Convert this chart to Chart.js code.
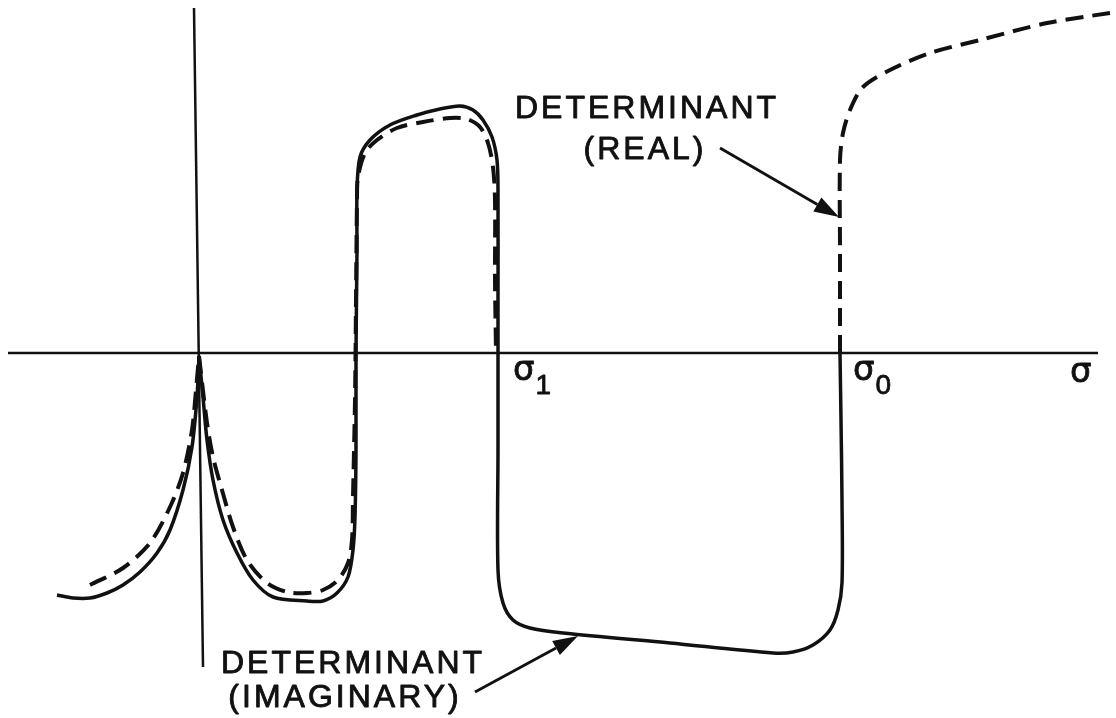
<!DOCTYPE html>
<html>
<head>
<meta charset="utf-8">
<script src="https://cdn.jsdelivr.net/npm/chart.js@4.4.1/dist/chart.umd.min.js"></script>
<style>
  html, body { margin: 0; padding: 0; background: #fff; }
  #plot { display: block; }
</style>
</head>
<body>
<canvas id="plot" width="1116" height="718"></canvas>
<script>
// sigma along the horizontal axis, determinant value up the vertical one
const imagLeftX = [-1.42, -1.26, -1.09, -0.92, -0.76, -0.59, -0.42, -0.29, -0.16, -0.07, -0.02, 0.00];
const imagLeftY = [-2.42, -2.45, -2.45, -2.40, -2.32, -2.19, -2.00, -1.77, -1.37, -0.94, -0.44, -0.03];

const imagMainX = [0.00, 0.04, 0.08, 0.14, 0.24, 0.38, 0.54, 0.74, 1.08, 1.24, 1.38, 1.49, 1.54, 1.56, 1.57, 1.57,
    1.58, 1.58, 1.61, 1.71, 1.91, 2.18, 2.41, 2.61, 2.74, 2.84, 2.93, 2.98, 2.99, 2.99, 2.99, 2.99,
    3.04, 3.14, 3.31, 3.64, 4.71, 5.74, 5.94, 6.14, 6.31, 6.39, 6.43, 6.43, 6.42, 6.41];
const imagMainY = [-0.03, -0.44, -0.87, -1.27, -1.67, -2.00, -2.27, -2.44, -2.48, -2.48, -2.40, -2.24, -1.97, -1.64, -0.97, 0.01,
    1.03, 1.63, 1.96, 2.13, 2.28, 2.38, 2.44, 2.47, 2.43, 2.33, 2.16, 1.93, 1.63, 0.53, -0.97, -2.17,
    -2.50, -2.67, -2.75, -2.80, -2.90, -3.00, -2.99, -2.92, -2.77, -2.57, -2.30, -1.47, -0.67, 0.00];

const realLeftX = [-1.09, -0.76, -0.49, -0.29, -0.16, -0.07, -0.03, 0.00];
const realLeftY = [-2.32, -2.15, -1.90, -1.54, -1.20, -0.77, -0.37, -0.03];

const realMainX = [0.00, 0.08, 0.14, 0.23, 0.34, 0.48, 0.68, 0.88, 1.08, 1.24, 1.39, 1.49, 1.53, 1.54, 1.56, 1.57,
    1.58, 1.59, 1.66, 1.78, 1.98, 2.24, 2.51, 2.68, 2.81, 2.89, 2.94, 2.96, 2.96, 2.97];
const realMainY = [-0.03, -0.70, -1.04, -1.37, -1.74, -2.07, -2.30, -2.39, -2.40, -2.37, -2.27, -2.10, -1.87, -1.44, -0.47, 0.53,
    1.53, 1.76, 2.00, 2.13, 2.25, 2.31, 2.35, 2.34, 2.26, 2.10, 1.86, 1.53, 0.73, 0.00];

const realRightX = [6.41, 6.41, 6.41, 6.44, 6.51, 6.64, 6.91, 7.31, 7.81, 8.48, 9.11];
const realRightY = [0.00, 1.03, 1.93, 2.20, 2.43, 2.66, 2.83, 3.00, 3.13, 3.30, 3.40];

const sigmaAxisX = [-1.91, 8.99];
const sigmaAxisY = [0, 0];
const detAxisX = [-0.05, 0.04];
const detAxisY = [3.45, -3.14];

function pts(xs, ys) {
    return xs.map((x, i) => ({ x: x, y: ys[i] }));
}

const ink = '#111';

function curve(xs, ys, dashed) {
    return {
        data: pts(xs, ys),
        borderColor: ink,
        borderWidth: dashed ? 4 : 3.5,
        borderDash: dashed ? [18, 9] : [],
        pointRadius: 0,
        tension: 0.3,
        showLine: true,
        clip: false
    };
}

function axisLine(xs, ys) {
    return {
        data: pts(xs, ys),
        borderColor: ink,
        borderWidth: 2.5,
        pointRadius: 0,
        tension: 0,
        showLine: true,
        clip: false
    };
}

// lettering and pointer arrows, placed in data units
const notes = [
    { text: 'DETERMINANT', x: 4.48, y: 2.35 },
    { text: '(REAL)', x: 4.46, y: 1.94 },
    { text: 'DETERMINANT', x: 1.54, y: -3.20 },
    { text: '(IMAGINARY)', x: 1.46, y: -3.54 }
];
const arrows = [
    { from: [5.21, 2.05], to: [6.40, 1.36] },
    { from: [2.76, -3.39], to: [3.79, -2.83] }
];
const sigmaLabels = [
    { x: 3.14, y: -0.27, sub: '1' },
    { x: 6.54, y: -0.27, sub: '0' },
    { x: 8.71, y: -0.29, sub: '' }
];

const lettering = {
    id: 'lettering',
    afterDatasetsDraw(chart) {
        const ctx = chart.ctx;
        const sx = chart.scales.x, sy = chart.scales.y;
        ctx.save();
        ctx.fillStyle = ink;
        ctx.strokeStyle = ink;
        ctx.lineJoin = 'round';

        ctx.font = '32px "Liberation Sans", Arial, sans-serif';
        ctx.letterSpacing = '3px';
        ctx.textAlign = 'center';
        ctx.textBaseline = 'alphabetic';
        ctx.lineWidth = 0.9;
        notes.forEach(n => {
            const px = sx.getPixelForValue(n.x), py = sy.getPixelForValue(n.y);
            ctx.fillText(n.text, px, py);
            ctx.strokeText(n.text, px, py);
        });
        ctx.letterSpacing = '0px';

        arrows.forEach(a => {
            const x0 = sx.getPixelForValue(a.from[0]), y0 = sy.getPixelForValue(a.from[1]);
            const x1 = sx.getPixelForValue(a.to[0]), y1 = sy.getPixelForValue(a.to[1]);
            const ang = Math.atan2(y1 - y0, x1 - x0);
            const len = 25, half = 8;
            const bx = x1 - len * Math.cos(ang), by = y1 - len * Math.sin(ang);
            ctx.lineWidth = 2.8;
            ctx.beginPath();
            ctx.moveTo(x0, y0);
            ctx.lineTo(bx, by);
            ctx.stroke();
            ctx.beginPath();
            ctx.moveTo(x1, y1);
            ctx.lineTo(bx + half * Math.sin(ang), by - half * Math.cos(ang));
            ctx.lineTo(bx - half * Math.sin(ang), by + half * Math.cos(ang));
            ctx.closePath();
            ctx.fill();
        });

        ctx.textAlign = 'left';
        ctx.lineWidth = 0.8;
        sigmaLabels.forEach(s => {
            const px = sx.getPixelForValue(s.x), py = sy.getPixelForValue(s.y);
            ctx.font = '34px "DejaVu Sans", sans-serif';
            ctx.fillText('σ', px, py);
            ctx.strokeText('σ', px, py);
            if (s.sub) {
                const w = ctx.measureText('σ').width;
                ctx.font = '28px "Liberation Sans", Arial, sans-serif';
                ctx.fillText(s.sub, px + w + 1, py + 14);
                ctx.strokeText(s.sub, px + w + 1, py + 14);
            }
        });
        ctx.restore();
    }
};

new Chart(document.getElementById('plot'), {
    type: 'scatter',
    data: {
        datasets: [
            axisLine(sigmaAxisX, sigmaAxisY),
            axisLine(detAxisX, detAxisY),
            curve(imagLeftX, imagLeftY, false),
            curve(imagMainX, imagMainY, false),
            curve(realLeftX, realLeftY, true),
            curve(realMainX, realMainY, true),
            curve(realRightX, realRightY, true)
        ]
    },
    options: {
        responsive: false,
        animation: false,
        layout: { padding: 0 },
        plugins: { legend: { display: false }, tooltip: { enabled: false } },
        scales: {
            x: { type: 'linear', min: -1.99, max: 9.17, display: false },
            y: { type: 'linear', min: -3.65, max: 3.53, display: false }
        }
    },
    plugins: [lettering]
});
</script>
</body>
</html>
